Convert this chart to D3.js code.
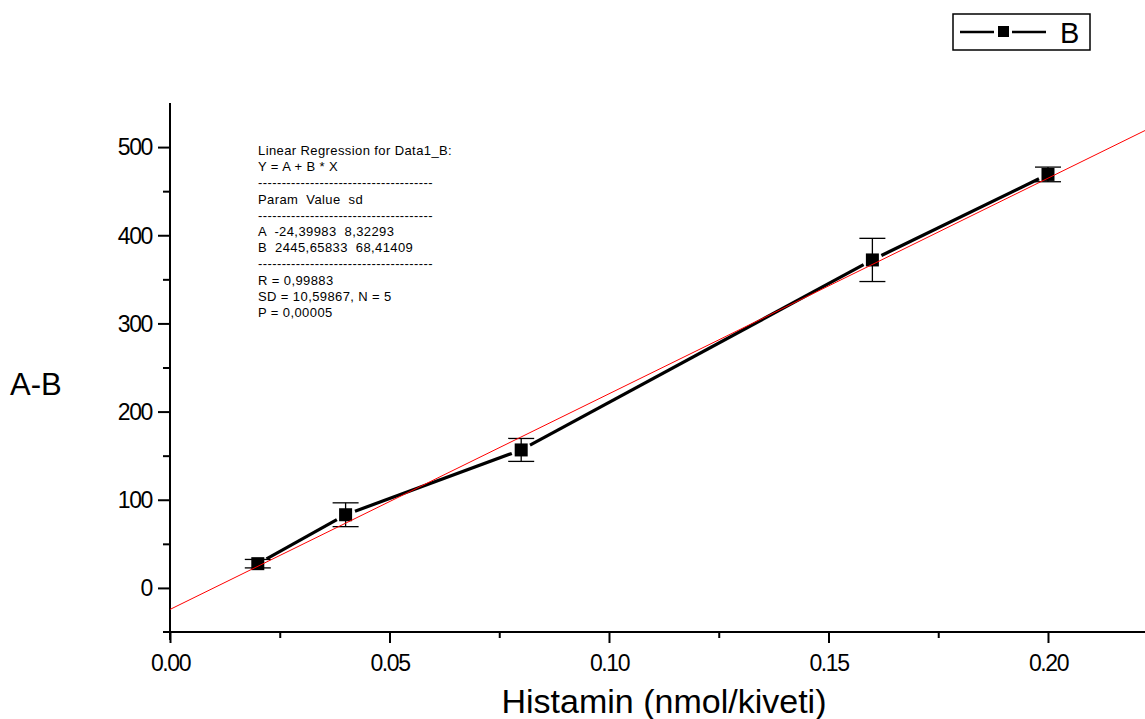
<!DOCTYPE html>
<html>
<head>
<meta charset="utf-8">
<script src="https://cdn.jsdelivr.net/npm/d3@7"></script>
<style>
  body { margin: 0; background: #fff; }
  svg text { font-family: "Liberation Sans", Arial, sans-serif; fill: #000; }
</style>
</head>
<body>
<div id="chart"></div>
<script>
// data
const concentrations = [0.02, 0.04, 0.08, 0.16, 0.20];
const meanValues = [27.5, 83, 156.5, 372, 469];
const sdValues = [4.8, 13.5, 13, 24.5, 8.3];
const xTicks = [0, 0.05, 0.10, 0.15, 0.20];
const xMinorTicks = [0.025, 0.075, 0.125, 0.175];
const yTicks = [0, 100, 200, 300, 400, 500];
const yMinorTicks = [50, 150, 250, 350, 450];
const fitA = -24.39983, fitB = 2445.65833;
const dashes = '-------------------------------------';
const fitLines = [
  "Linear Regression for Data1_B:",
  "Y = A + B * X",
  dashes,
  "Param  Value  sd",
  dashes,
  "A  -24,39983  8,32293",
  "B  2445,65833  68,41409",
  dashes,
  "R = 0,99883",
  "SD = 10,59867, N = 5",
  "P = 0,00005"
];

let width = 1145, height = 719,
    margin = {top: 103, left: 170, right: 0, bottom: 87};

let x = d3.scaleLinear().domain([0, 0.2221]).range([margin.left, width - margin.right]),
    y = d3.scaleLinear().domain([-50, 550]).range([height - margin.bottom, margin.top]);

let svg = d3.select('#chart').append('svg')
    .attr('width', width).attr('height', height);

// axes - major and minor ticks
let xAxis = svg.append('g')
    .attr('transform', `translate(0,${y(-50)})`)
    .call(d3.axisBottom(x).tickValues(xTicks).tickSize(11).tickSizeOuter(0).tickPadding(21)
        .tickFormat(d3.format('.2f')));
svg.append('g')
    .attr('transform', `translate(0,${y(-50)})`)
    .call(d3.axisBottom(x).tickValues(xMinorTicks).tickSize(6).tickSizeOuter(0).tickFormat(''));

let yAxis = svg.append('g')
    .attr('transform', `translate(${x(0)},0)`)
    .call(d3.axisLeft(y).tickValues(yTicks).tickSize(12).tickSizeOuter(0).tickPadding(6));
svg.append('g')
    .attr('transform', `translate(${x(0)},0)`)
    .call(d3.axisLeft(y).tickValues(yMinorTicks).tickSize(7).tickSizeOuter(0).tickFormat(''));

svg.selectAll('.domain').remove();
svg.selectAll('.tick line').attr('stroke', '#000').attr('stroke-width', 2);
svg.selectAll('.tick text')
    .style('font-size', '23px')
    .style('letter-spacing', '-1.4px');
xAxis.selectAll('.tick text').attr('dy', '0.3em');
yAxis.selectAll('.tick text').attr('dy', '0.34em');

// axis lines, slightly overshooting like the original
svg.append('line')
    .attr('x1', x(0) - 7).attr('x2', width)
    .attr('y1', y(-50)).attr('y2', y(-50))
    .attr('stroke', '#000').attr('stroke-width', 2);
svg.append('line')
    .attr('x1', x(0)).attr('x2', x(0))
    .attr('y1', y(550)).attr('y2', y(-50) + 8)
    .attr('stroke', '#000').attr('stroke-width', 2);

// axis titles
svg.append('text')
    .attr('x', 664).attr('y', 713)
    .attr('text-anchor', 'middle')
    .style('font-size', '34px')
    .text('Histamin (nmol/kiveti)');
svg.append('text')
    .attr('x', 10).attr('y', 395)
    .style('font-size', '31px')
    .text('A-B');

let pts = concentrations.map((c, i) => ({x: c, y: meanValues[i], sd: sdValues[i]}));

// error bars
let err = svg.append('g').attr('stroke', '#000').attr('stroke-width', 1.3);
pts.forEach(p => {
    err.append('line').attr('x1', x(p.x)).attr('x2', x(p.x))
        .attr('y1', y(p.y - p.sd)).attr('y2', y(p.y + p.sd));
    [p.y - p.sd, p.y + p.sd].forEach(v => {
        err.append('line').attr('x1', x(p.x) - 13).attr('x2', x(p.x) + 13)
            .attr('y1', y(v)).attr('y2', y(v));
    });
});

// connecting line, broken around each marker
let gap = 10;
for (let i = 0; i < pts.length - 1; i++) {
    let x1 = x(pts[i].x), y1 = y(pts[i].y), x2 = x(pts[i + 1].x), y2 = y(pts[i + 1].y),
        len = Math.hypot(x2 - x1, y2 - y1),
        ux = (x2 - x1) / len, uy = (y2 - y1) / len;
    svg.append('line')
        .attr('x1', x1 + ux * gap).attr('y1', y1 + uy * gap)
        .attr('x2', x2 - ux * gap).attr('y2', y2 - uy * gap)
        .attr('stroke', '#000').attr('stroke-width', 3.2);
}

// square markers
svg.selectAll('rect.marker').data(pts).enter().append('rect')
    .attr('x', d => x(d.x) - 6.5).attr('y', d => y(d.y) - 6.5)
    .attr('width', 13).attr('height', 13).attr('fill', '#000');

// regression fit line
svg.append('line')
    .attr('x1', x(0)).attr('y1', y(fitA))
    .attr('x2', x(0.2221)).attr('y2', y(fitA + fitB * 0.2221))
    .attr('stroke', '#ff0000').attr('stroke-width', 1);

// regression text block
svg.append('text')
    .attr('x', 258).attr('y', 155)
    .style('font-size', '13px')
    .style('letter-spacing', '0.4px')
    .selectAll('tspan').data(fitLines).enter().append('tspan')
    .attr('x', 258)
    .attr('dy', (d, i) => i === 0 ? 0 : 16.2)
    .attr('xml:space', 'preserve')
    .style('white-space', 'pre')
    .text(d => d);

// legend
let lg = svg.append('g');
lg.append('rect').attr('x', 953).attr('y', 14).attr('width', 137).attr('height', 36)
    .attr('fill', 'none').attr('stroke', '#000').attr('stroke-width', 1.5);
lg.append('line').attr('x1', 960).attr('x2', 994).attr('y1', 32).attr('y2', 32)
    .attr('stroke', '#000').attr('stroke-width', 2.5);
lg.append('line').attr('x1', 1012).attr('x2', 1046).attr('y1', 32).attr('y2', 32)
    .attr('stroke', '#000').attr('stroke-width', 2.5);
lg.append('rect').attr('x', 998).attr('y', 26).attr('width', 11).attr('height', 11).attr('fill', '#000');
lg.append('text').attr('x', 1060).attr('y', 43).style('font-size', '29px').text('B');
</script>
</body>
</html>
